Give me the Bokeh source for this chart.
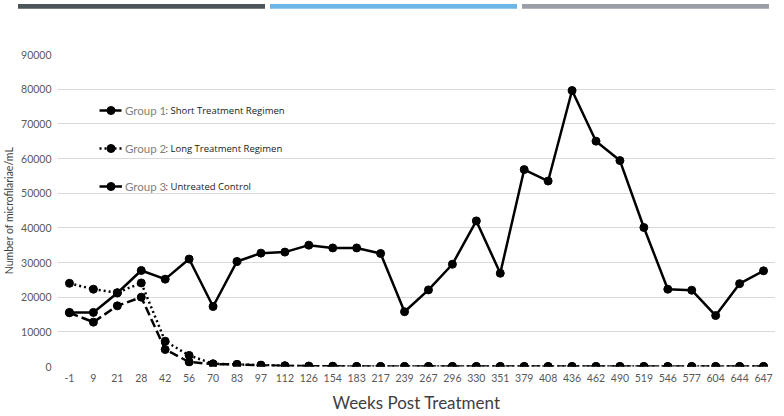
from bokeh.plotting import figure
from bokeh.models import (Legend, LegendItem, Label, Range1d, FactorRange, Div,
                          SingleIntervalTicker, ColumnDataSource)
from bokeh.layouts import column
from bokeh.embed import file_html
from bokeh.resources import INLINE

# ---------------- data ----------------
weeks = ["-1", "9", "21", "28", "42", "56", "70", "83", "97", "112",
         "126", "154", "183", "217", "239", "267", "296", "330", "351", "379",
         "408", "436", "462", "490", "519", "546", "577", "604", "644", "647"]

group1 = [15500, 12800, 17500, 20000, 4900, 1300, 700, 600, 300, 200,
          100, 50, 0, 0, 0, 0, 0, 0, 0, 0,
          0, 0, 0, 0, 0, 0, 0, 0, 0, 0]

group2 = [24000, 22300, 21300, 24100, 7300, 3200, 800, 600, 400, 200,
          100, 50, 0, 0, 0, 0, 0, 0, 0, 0,
          0, 0, 0, 0, 0, 0, 0, 0, 0, 0]

group3 = [15600, 15600, 21200, 27700, 25200, 31000, 17300, 30300, 32700, 33000,
          35000, 34200, 34200, 32600, 15800, 22100, 29500, 42000, 26900, 56800,
          53500, 79600, 65000, 59400, 40100, 22300, 22000, 14700, 23900, 27600]

legend_names = ["Group 1", "Group 2", "Group 3"]
legend_desc = [": Short Treatment Regimen", ": Long Treatment Regimen", ": Untreated Control"]

band_colors = ["#4b555a", "#6cb6e6", "#9a9ea6"]

# ---------------- layout constants ----------------
W = 768
BAND_H = 8
LEFT = 50
TOP = 46
FRAME_W = W - LEFT
FRAME_H = 312

# ---------------- decorative colour bands (HTML strip) ----------------
blocks = "".join(
    f'<div style="position:absolute;left:{18 + i * 252}px;top:0px;width:247px;height:7px;'
    f'background:{c};"></div>'
    for i, c in enumerate(band_colors))
bands = Div(text=f'<div style="position:relative;width:{W}px;height:{BAND_H}px;">{blocks}</div>',
            width=W, height=BAND_H, margin=0)

# ---------------- main chart ----------------
p = figure(frame_width=FRAME_W, frame_height=FRAME_H, output_backend="svg", toolbar_location=None,
           x_range=FactorRange(factors=weeks, range_padding=0),
           y_range=Range1d(0, 90000),
           min_border_left=LEFT, min_border_right=0, min_border_top=TOP,
           min_border_bottom=0)
p.outline_line_color = None
p.background_fill_color = "white"

p.yaxis.ticker = SingleIntervalTicker(interval=10000)
for ax in (p.xaxis[0], p.yaxis[0]):
    ax.axis_line_color = None
    ax.major_tick_line_color = None
    ax.minor_tick_line_color = None
    ax.major_tick_out = 0
    ax.major_tick_in = 0
    ax.minor_tick_out = 0
    ax.minor_tick_in = 0
    ax.major_label_text_font = "Lato"
    ax.major_label_text_font_size = "10.5px"
    ax.major_label_text_color = "#595959"
    ax.axis_label_text_font = "Lato"
    ax.axis_label_text_font_style = "normal"
    ax.axis_label_text_color = "#404040"

p.xaxis.axis_label = "Weeks Post Treatment"
p.xaxis.axis_label_text_font_size = "17px"
p.xaxis.major_label_standoff = 7
p.xaxis.axis_label_standoff = 7

p.yaxis.axis_label = "Number of microfilariae/mL"
p.yaxis.axis_label_text_font_size = "10.5px"
p.yaxis.major_label_standoff = 6
p.yaxis.axis_label_standoff = 3

p.xgrid.grid_line_color = None
p.ygrid.grid_line_color = "#d9d9d9"
p.ygrid.grid_line_width = 1

src = ColumnDataSource(dict(x=weeks, g1=group1, g2=group2, g3=group3))

r1l = p.line("x", "g1", source=src, line_color="black", line_width=2.5, line_dash="9 4")
r1m = p.scatter("x", "g1", source=src, size=8, color="black")
r2l = p.line("x", "g2", source=src, line_color="black", line_width=2.5, line_dash="2 3")
r2m = p.scatter("x", "g2", source=src, size=8, color="black")
r3l = p.line("x", "g3", source=src, line_color="black", line_width=2.5)
r3m = p.scatter("x", "g3", source=src, size=8, color="black")

rends = [(r1l, r1m), (r2l, r2m), (r3l, r3m)]
items = [LegendItem(label=n, renderers=list(r)) for n, r in zip(legend_names, rends)]

ROW0 = 56      # first legend row centre below the frame top
ROWSTEP = 38
legend = Legend(items=items, location=(42, FRAME_H - (ROW0 - 10) - 96),
                glyph_width=23, glyph_height=20, label_height=20, label_standoff=3,
                spacing=ROWSTEP - 20, padding=0, margin=0,
                border_line_color=None, background_fill_alpha=0,
                label_text_font="Lato", label_text_font_size="11.5px",
                label_text_color="#7f7f7f")
p.add_layout(legend)

for i, d in enumerate(legend_desc):
    p.add_layout(Label(x=108, y=FRAME_H - ROW0 - i * ROWSTEP, x_units="screen", y_units="screen",
                       text=d, text_baseline="middle", text_font="Open Sans",
                       text_font_size="9.5px", text_color="#1a1a1a"))

layout = column(bands, p, spacing=0)
open("out.html", "w").write(file_html(layout, INLINE))
